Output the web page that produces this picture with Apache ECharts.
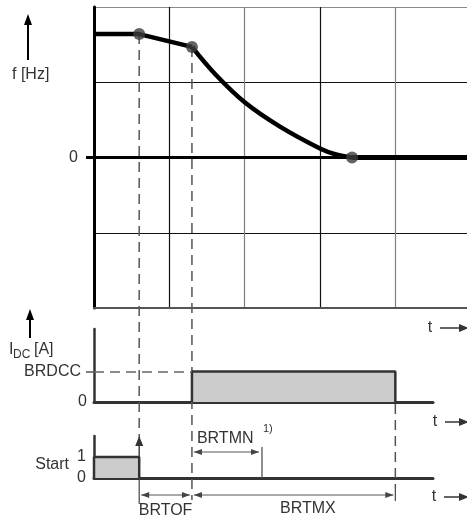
<!DOCTYPE html>
<html><head><meta charset="utf-8">
<script src="https://cdn.jsdelivr.net/npm/echarts@6/dist/echarts.min.js"></script>
<style>html,body{margin:0;padding:0;background:#fff}#c{width:467px;height:520px}</style>
</head><body><div id="c"></div>
<script>
// ---- data (time in grid units, frequency in grid units) ----
const freqT  = [0, 0.6, 1.3, 1.606, 2.004, 2.468, 2.999, 3.212, 3.424, 4.95];
const freqHz = [1.64, 1.64, 1.47, 1.11, 0.73, 0.41, 0.12, 0.04, 0, 0];
const dotT  = [0.6, 1.3, 3.424];
const dotHz = [1.64, 1.47, 0];
const idcT = [1.3, 1.3, 4.0, 4.0];
const idcA = [0, 1, 1, 0];
const startT = [0, 0, 0.6, 0.6];
const startV = [0, 1, 1, 0];
const eventNames = ['BRTOF', 'BRTMN', 'BRTMX'];
const eventTimes = [0.6, 1.3, 2.23, 4.0];   // start off, brake begin, BRTMN end, BRTMX end
const freqTicks = [0], freqTickLabels = ['0'];
const idcTicks = [0, 1], idcTickLabels = ['0', 'BRDCC'];
const startTicks = [0, 1], startTickLabels = ['0', '1'];
const axisTitles = ['f [Hz]', 'Start', 't'];

const FONT = '"Liberation Sans", Arial, sans-serif';
const TXT = '#333';
const zip = (a, b, i0, i1) => a.slice(i0, i1).map((t, i) => [t, b[i0 + i]]);
const [tOff, tBrake, tMin, tMax] = eventTimes;
const nF = freqT.length;

const chart = echarts.init(document.getElementById('c'), null, {renderer: 'canvas'});

const labelFmt = (ticks, labels) => v => {
  const i = ticks.indexOf(v); return i < 0 ? '' : labels[i];
};

const option = {
  animation: false,
  backgroundColor: '#fff',
  grid: [
    {left: 94, right: 0, top: 7, height: 301},
    {left: 94, right: 34, top: 329, height: 73},
    {left: 94, right: 34, top: 436, height: 42}
  ],
  xAxis: [
    {gridIndex: 0, type: 'value', min: 0, max: 4.95, interval: 1,
     axisLine: {onZero: false, lineStyle: {color: '#555', width: 2}},
     axisTick: {show: false}, axisLabel: {show: false},
     splitLine: {show: true, showMinLine: false, showMaxLine: false,
                 lineStyle: {color: ['#111', '#808080'], width: 1.2}}},
    {gridIndex: 1, type: 'value', min: 0, max: 4.5,
     axisLine: {onZero: false, lineStyle: {color: '#333', width: 3}},
     axisTick: {show: false}, axisLabel: {show: false}, splitLine: {show: false}},
    {gridIndex: 2, type: 'value', min: 0, max: 4.5,
     axisLine: {onZero: false, lineStyle: {color: '#333', width: 3}},
     axisTick: {show: false}, axisLabel: {show: false}, splitLine: {show: false}}
  ],
  yAxis: [
    {gridIndex: 0, type: 'value', min: -2, max: 2, interval: 1,
     axisLine: {show: true, lineStyle: {color: '#000', width: 3}},
     axisTick: {show: false},
     axisLabel: {show: true, formatter: labelFmt(freqTicks, freqTickLabels),
                 margin: 16, fontSize: 16, fontFamily: FONT, color: TXT},
     splitLine: {show: true, showMinLine: false, showMaxLine: true,
                 lineStyle: {color: ['#111', '#111', '#111', '#8a8a8a'], width: 1.2}}},
    {gridIndex: 1, type: 'value', min: 0, max: 2.4,
     axisLine: {show: true, lineStyle: {color: '#333', width: 2.5}},
     axisTick: {show: true, customValues: [1], length: 8, lineStyle: {color: '#555', width: 1.5}},
     axisLabel: {show: true, customValues: idcTicks,
                 formatter: v => v === 1 ? '{p|' + labelFmt(idcTicks, idcTickLabels)(v) + '}' : labelFmt(idcTicks, idcTickLabels)(v),
                 rich: {p: {padding: [0, 6, 0, 0], fontSize: 16, fontFamily: FONT, color: TXT}},
                 margin: 7, fontSize: 16, fontFamily: FONT, color: TXT},
     splitLine: {show: false}},
    {gridIndex: 2, type: 'value', min: 0, max: 2,
     axisLine: {show: true, lineStyle: {color: '#333', width: 2.5}},
     axisTick: {show: false},
     axisLabel: {show: true, customValues: startTicks, formatter: labelFmt(startTicks, startTickLabels),
                 margin: 8, fontSize: 16, fontFamily: FONT, color: TXT},
     splitLine: {show: false}}
  ],
  series: [
    {type: 'line', xAxisIndex: 0, yAxisIndex: 0, data: zip(freqT, freqHz, 0, 3), symbol: 'none', z: 4,
     lineStyle: {color: '#000', width: 4.5},
     markLine: {silent: true, symbol: ['none', 'none'], label: {show: false}, z: 3,
                lineStyle: {color: '#000', width: 3, type: 'solid'}, data: [{yAxis: 0}]}},
    {type: 'line', xAxisIndex: 0, yAxisIndex: 0, data: zip(freqT, freqHz, 2, nF - 1), symbol: 'none', smooth: 0.35, z: 4,
     lineStyle: {color: '#000', width: 4.5}},
    {type: 'line', xAxisIndex: 0, yAxisIndex: 0, data: zip(freqT, freqHz, nF - 2, nF), symbol: 'none', z: 4,
     lineStyle: {color: '#000', width: 5}},
    {type: 'scatter', xAxisIndex: 0, yAxisIndex: 0, data: zip(dotT, dotHz, 0, 3), symbolSize: 12, z: 5,
     itemStyle: {color: '#3d3d3d'}},
    {type: 'line', xAxisIndex: 1, yAxisIndex: 1, data: zip(idcT, idcA, 0, 4), symbol: 'none', z: 4,
     lineStyle: {color: '#333', width: 2.5}, areaStyle: {color: '#cccccc', opacity: 1},
     markLine: {silent: true, symbol: ['none', 'none'], label: {show: false},
                lineStyle: {color: '#666', width: 1.5, type: [10, 6]},
                data: [[{coord: [0, idcA[1]]}, {coord: [idcT[1], idcA[1]]}]]}},
    {type: 'line', xAxisIndex: 2, yAxisIndex: 2, data: zip(startT, startV, 0, 4), symbol: 'none', z: 4,
     lineStyle: {color: '#333', width: 2.5}, areaStyle: {color: '#cccccc', opacity: 1}}
  ]
};
chart.setOption(option);

// ---- annotations positioned through the axes' scales ----
const P = (g, x, y) => chart.convertToPixel({gridIndex: g}, [x, y]);
const els = [];
const DASH = [10, 6];
function ln(x1, y1, x2, y2, st) {
  els.push({type: 'line', silent: true, z: 1, shape: {x1, y1, x2, y2},
            style: Object.assign({stroke: '#555', lineWidth: 1.5}, st || {})});
}
function poly(pts, fill) {
  els.push({type: 'polygon', silent: true, z: 6, shape: {points: pts}, style: {fill: fill || '#333'}});
}
function txt(s, x, y, o) {
  els.push({type: 'text', silent: true, z: 6,
            style: Object.assign({text: s, x, y, fill: TXT, font: '16px ' + FONT,
                                  textAlign: 'left', textVerticalAlign: 'middle'}, o || {})});
}
function dblArrow(x1, x2, y) {
  ln(x1, y, x2, y, {stroke: '#555', lineWidth: 1});
  poly([[x1, y], [x1 + 8, y - 3], [x1 + 8, y + 3]], '#444');
  poly([[x2, y], [x2 - 8, y - 3], [x2 - 8, y + 3]], '#444');
}
function tArrow(xt, y) {
  txt(axisTitles[2], xt, y, {textAlign: 'center'});
  ln(xt + 10, y, 462, y, {stroke: '#333', lineWidth: 1.5});
  poly([[469, y], [459, y - 4], [459, y + 4]], '#333');
}
function upArrow(x, yTip, yEnd) {
  ln(x, yTip + 8, x, yEnd, {stroke: '#000', lineWidth: 2});
  poly([[x, yTip], [x - 4, yTip + 11], [x + 4, yTip + 11]], '#000');
}

const xOff = P(2, tOff, 0)[0], xBrake = P(2, tBrake, 0)[0];
const xMin = P(2, tMin, 0)[0], xMax = P(2, tMax, 0)[0];
const [xAxis0, yZero] = P(0, 0, freqTicks[0]);
const topBase = P(0, 0, -2)[1];
const midBase = P(1, 0, 0)[1];
const botBase = P(2, 0, 0)[1], botTop = P(2, 0, 2)[1];
const startHigh = P(2, tOff, startV[2])[1];

// zero tick on the frequency axis
ln(xAxis0 - 8, yZero, xAxis0, yZero, {stroke: '#000', lineWidth: 3});
// guide at start-off
ln(xOff, P(0, dotT[0], dotHz[0])[1], xOff, botTop + 2, {lineDash: DASH});
poly([[xOff, botTop], [xOff - 4, botTop + 10], [xOff + 4, botTop + 10]], '#333');
ln(xOff, botTop + 10, xOff, startHigh, {stroke: '#444', lineWidth: 1.5});
ln(xOff, botBase, xOff, botBase + 26, {stroke: '#444', lineWidth: 1.2});
// guide at brake begin
ln(xBrake, P(0, dotT[1], dotHz[1])[1], xBrake, botBase + 22, {lineDash: DASH});
// guide at BRTMX end
ln(xMax, midBase + 2, xMax, botBase + 10, {lineDash: DASH});
ln(xMax, botBase + 10, xMax, botBase + 23, {stroke: '#444', lineWidth: 1.2});
// BRTOF / BRTMX
dblArrow(xOff + 2, xBrake - 2, botBase + 17);
dblArrow(xBrake + 2, xMax - 2, botBase + 17);
txt(eventNames[0], (xOff + xBrake) / 2, botBase + 33, {textAlign: 'center'});
txt(eventNames[2], xBrake + 0.57 * (xMax - xBrake), botBase + 31, {textAlign: 'center'});
// BRTMN
dblArrow(xBrake + 2, xMin - 3, botBase - 26);
ln(xMin, botBase - 31, xMin, botBase, {stroke: '#444', lineWidth: 1.2});
txt(eventNames[1], xBrake + 5, botBase - 39);
txt('1)', xMin + 1, botBase - 49, {font: '11px ' + FONT});

// t arrows
tArrow(430, topBase + 20);
tArrow(435, midBase + 20);
tArrow(434, botBase + 19);

// axis titles
upArrow(28, 14, 60);
txt(axisTitles[0], 12, 75);
upArrow(30, 309, 338);
txt('I', 9, 350);
txt('DC', 13, 355, {font: '12px ' + FONT});
txt('[A]', 34, 350);
txt(axisTitles[1], 69, 465, {textAlign: 'right'});

chart.setOption({graphic: {elements: els}});
</script></body></html>
